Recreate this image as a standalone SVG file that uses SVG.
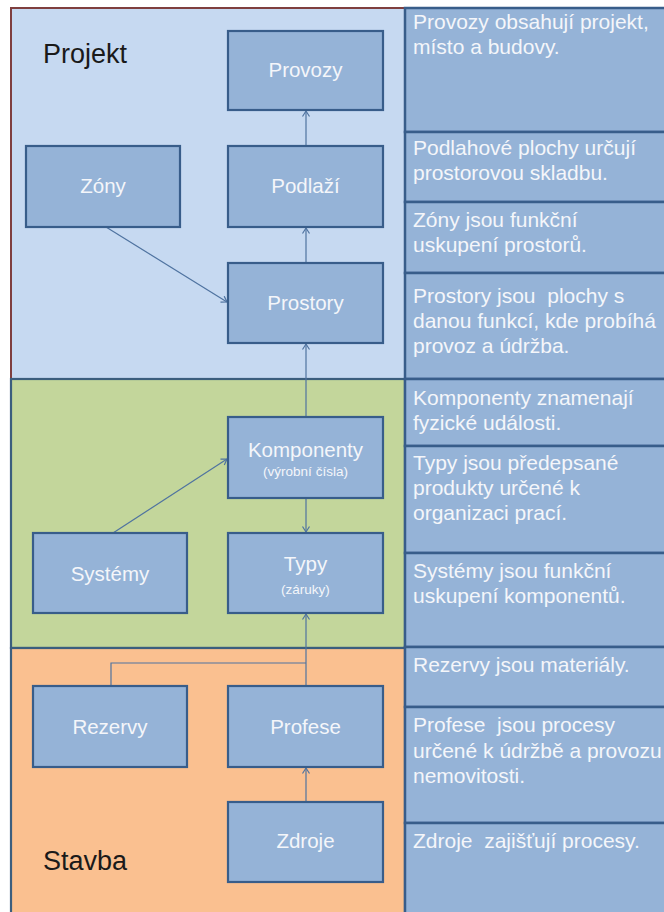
<svg xmlns="http://www.w3.org/2000/svg" width="664" height="912" viewBox="0 0 664 912">
<defs>
<style>
.box{fill:#95B3D7;stroke:#385D8A;stroke-width:2.2}
.lbl{font-family:"Liberation Sans",Arial,sans-serif;font-size:20.5px;fill:#F4F6FA;text-anchor:middle}
.sub{font-family:"Liberation Sans",Arial,sans-serif;font-size:13.5px;fill:#F4F6FA;text-anchor:middle}
.cell{fill:#95B3D7;stroke:#385D8A;stroke-width:2.5}
.desc{font-family:"Liberation Sans",Arial,sans-serif;font-size:21px;fill:#F4F6FA;white-space:pre}
.title{font-family:"Liberation Sans",Arial,sans-serif;font-size:27px;fill:#1A1A1A}
.con{fill:none;stroke:#4F73A0;stroke-width:1.2}
</style>
<marker id="arr" markerUnits="userSpaceOnUse" markerWidth="10" markerHeight="10" refX="6" refY="4" orient="auto">
<path d="M0.5,0.5 L6,4 L0.5,7.5" fill="none" stroke="#4F73A0" stroke-width="1.2"/>
</marker>
</defs>
<rect x="0" y="0" width="664" height="912" fill="#FFFFFF"/>
<g id="panel-projekt">
<rect x="11" y="8" width="394" height="371" fill="#C6D9F1" stroke="#7F3F3F" stroke-width="2"/>
<text class="title" x="43" y="63">Projekt</text>
</g>
<g id="panel-green">
<rect x="11" y="379" width="394" height="269" fill="#C3D69B" stroke="#3B5E7E" stroke-width="2.2"/>
</g>
<g id="panel-stavba">
<rect x="11" y="648" width="394" height="272" fill="#FAC090" stroke="#3B5E7E" stroke-width="2.2"/>
<text class="title" x="43" y="870">Stavba</text>
</g>
<g id="descriptions">
<rect class="cell" x="405" y="8" width="265" height="124"/>
<rect class="cell" x="405" y="132" width="265" height="70"/>
<rect class="cell" x="405" y="202" width="265" height="71"/>
<rect class="cell" x="405" y="273" width="265" height="106"/>
<rect class="cell" x="405" y="379" width="265" height="67"/>
<rect class="cell" x="405" y="446" width="265" height="107"/>
<rect class="cell" x="405" y="553" width="265" height="94"/>
<rect class="cell" x="405" y="647" width="265" height="60"/>
<rect class="cell" x="405" y="707" width="265" height="116"/>
<rect class="cell" x="405" y="823" width="265" height="100"/>
<text class="desc" x="413" y="29">Provozy obsahují projekt,</text>
<text class="desc" x="413" y="54">místo a budovy.</text>
<text class="desc" x="413" y="155">Podlahové plochy určují</text>
<text class="desc" x="413" y="180">prostorovou skladbu.</text>
<text class="desc" x="413" y="227">Zóny jsou funkční</text>
<text class="desc" x="413" y="252">uskupení prostorů.</text>
<text class="desc" x="413" y="303">Prostory jsou  plochy s</text>
<text class="desc" x="413" y="328">danou funkcí, kde probíhá</text>
<text class="desc" x="413" y="353">provoz a údržba.</text>
<text class="desc" x="413" y="405">Komponenty znamenají</text>
<text class="desc" x="413" y="430">fyzické události.</text>
<text class="desc" x="413" y="470">Typy jsou předepsané</text>
<text class="desc" x="413" y="495">produkty určené k</text>
<text class="desc" x="413" y="520">organizaci prací.</text>
<text class="desc" x="413" y="578">Systémy jsou funkční</text>
<text class="desc" x="413" y="603">uskupení komponentů.</text>
<text class="desc" x="413" y="672">Rezervy jsou materiály.</text>
<text class="desc" x="413" y="732">Profese  jsou procesy</text>
<text class="desc" x="413" y="758">určené k údržbě a provozu</text>
<text class="desc" x="413" y="783">nemovitosti.</text>
<text class="desc" x="413" y="848">Zdroje  zajišťují procesy.</text>
</g>
<g id="connectors">
<line class="con" x1="306" y1="146" x2="306" y2="111" marker-end="url(#arr)"/>
<line class="con" x1="306" y1="263" x2="306" y2="228" marker-end="url(#arr)"/>
<line class="con" x1="106" y1="227" x2="227" y2="302" marker-end="url(#arr)"/>
<line class="con" x1="306" y1="417" x2="306" y2="344" marker-end="url(#arr)"/>
<line class="con" x1="113" y1="533" x2="227" y2="459" marker-end="url(#arr)"/>
<line class="con" x1="306" y1="498" x2="306" y2="532" marker-end="url(#arr)"/>
<line class="con" x1="306" y1="686" x2="306" y2="614" marker-end="url(#arr)"/>
<polyline class="con" points="111,686 111,663 306,663"/>
<line class="con" x1="306" y1="802" x2="306" y2="768" marker-end="url(#arr)"/>
</g>
<g id="provozy"><rect class="box" x="228" y="31" width="155" height="79"/><text class="lbl" x="305.5" y="77">Provozy</text></g>
<g id="podlazi"><rect class="box" x="228" y="146" width="155" height="81"/><text class="lbl" x="305.5" y="193">Podlaží</text></g>
<g id="zony"><rect class="box" x="26" y="146" width="154" height="81"/><text class="lbl" x="103" y="193">Zóny</text></g>
<g id="prostory"><rect class="box" x="228" y="263" width="155" height="80"/><text class="lbl" x="305.5" y="310">Prostory</text></g>
<g id="komponenty"><rect class="box" x="228" y="417" width="155" height="81"/><text class="lbl" x="305.5" y="457">Komponenty</text><text class="sub" x="305.5" y="476">(výrobní čísla)</text></g>
<g id="systemy"><rect class="box" x="33" y="533" width="154" height="80"/><text class="lbl" x="110" y="581">Systémy</text></g>
<g id="typy"><rect class="box" x="228" y="533" width="155" height="80"/><text class="lbl" x="305.5" y="571">Typy</text><text class="sub" x="305.5" y="594">(záruky)</text></g>
<g id="rezervy"><rect class="box" x="33" y="686" width="154" height="81"/><text class="lbl" x="110" y="734">Rezervy</text></g>
<g id="profese"><rect class="box" x="228" y="686" width="155" height="81"/><text class="lbl" x="305.5" y="734">Profese</text></g>
<g id="zdroje"><rect class="box" x="228" y="802" width="155" height="80"/><text class="lbl" x="305.5" y="848">Zdroje</text></g>
</svg>
